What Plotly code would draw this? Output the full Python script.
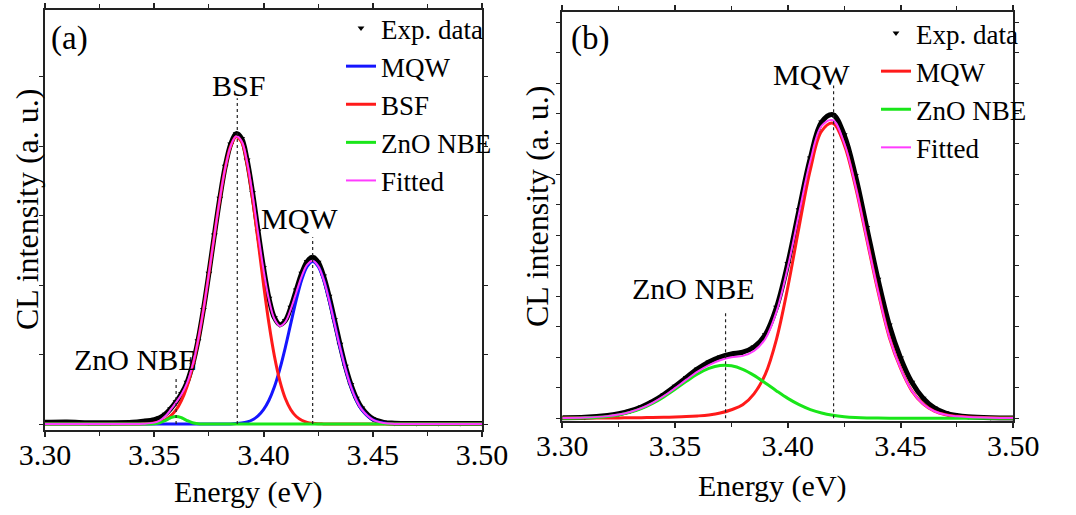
import plotly.graph_objects as go

# ---------------- Panel (a) ----------------
energy_a = [3.300, 3.310, 3.320, 3.330, 3.340, 3.345, 3.350,
            3.3525, 3.355, 3.3575, 3.360, 3.3625, 3.365, 3.3675, 3.370, 3.3725, 3.375,
            3.3775, 3.380, 3.3825, 3.385, 3.3875, 3.390, 3.3925, 3.395, 3.3975, 3.400,
            3.4025, 3.405, 3.4075, 3.410, 3.4125, 3.415, 3.4175, 3.420, 3.4225, 3.425,
            3.4275, 3.430, 3.4325, 3.435, 3.4375, 3.440, 3.4425, 3.445,
            3.450, 3.455, 3.460, 3.470, 3.480, 3.490, 3.500]

exp_a = [0.012, 0.014, 0.010, 0.009, 0.012, 0.020, 0.032,
         0.045, 0.070, 0.110, 0.160, 0.220, 0.300, 0.425, 0.600, 0.825, 1.085,
         1.360, 1.625, 1.855, 2.015, 2.090, 2.055, 1.900, 1.665, 1.390, 1.125,
         0.905, 0.765, 0.715, 0.745, 0.840, 0.965, 1.085, 1.170, 1.200, 1.165,
         1.065, 0.920, 0.750, 0.575, 0.415, 0.285, 0.185, 0.115,
         0.038, 0.012, 0.006, 0.004, 0.004, 0.003, 0.003]

mqw_a = [0, 0, 0, 0, 0, 0, 0,
         0, 0, 0, 0, 0, 0, 0, 0, 0, 0,
         0, 0.000, 0.001, 0.001, 0.003, 0.007, 0.015, 0.031, 0.058, 0.103,
         0.171, 0.268, 0.397, 0.552, 0.724, 0.893, 1.038, 1.135, 1.170, 1.135,
         1.038, 0.893, 0.724, 0.552, 0.397, 0.268, 0.171, 0.103,
         0.031, 0.007, 0.001, 0, 0, 0, 0]

bsf_a = [0, 0, 0, 0, 0.000, 0.002, 0.008,
         0.016, 0.031, 0.058, 0.101, 0.170, 0.270, 0.411, 0.595, 0.821, 1.081,
         1.355, 1.618, 1.843, 2.000, 2.068, 2.029, 1.871, 1.620, 1.318, 1.008,
         0.723, 0.488, 0.309, 0.184, 0.103, 0.054, 0.027, 0.012, 0.005, 0.002,
         0.001, 0, 0, 0, 0, 0, 0, 0,
         0, 0, 0, 0, 0, 0, 0]

zno_a = [0, 0, 0, 0, 0, 0, 0.002,
         0.009, 0.025, 0.045, 0.055, 0.045, 0.025, 0.009, 0.002, 0, 0,
         0, 0, 0, 0, 0, 0, 0, 0, 0, 0,
         0, 0, 0, 0, 0, 0, 0, 0, 0, 0,
         0, 0, 0, 0, 0, 0, 0, 0,
         0, 0, 0, 0, 0, 0, 0]

fit_a = [0, 0, 0, 0, 0, 0.002, 0.010,
         0.025, 0.056, 0.103, 0.156, 0.215, 0.295, 0.420, 0.597, 0.821, 1.081,
         1.355, 1.618, 1.844, 2.001, 2.071, 2.036, 1.886, 1.651, 1.376, 1.111,
         0.894, 0.756, 0.706, 0.736, 0.827, 0.947, 1.065, 1.147, 1.175, 1.137,
         1.039, 0.893, 0.724, 0.552, 0.397, 0.268, 0.171, 0.103,
         0.031, 0.007, 0.001, 0, 0, 0, 0]

# peak markers: (label, energy, top of the dotted guide)
peaks_a = [("BSF", 3.388, 2.345), ("MQW", 3.4225, 1.345), ("ZnO NBE", 3.360, 0.34)]

# ---------------- Panel (b) ----------------
energy_b = [3.300, 3.310, 3.320, 3.325, 3.330, 3.335, 3.340, 3.345, 3.350, 3.355,
            3.360, 3.365, 3.370, 3.375, 3.380, 3.385, 3.390, 3.395, 3.400, 3.405,
            3.410, 3.415, 3.420, 3.425, 3.430, 3.435, 3.440, 3.445, 3.450, 3.455,
            3.460, 3.465, 3.470, 3.475, 3.480, 3.490, 3.500]

exp_b = [0.010, 0.015, 0.045, 0.075, 0.120, 0.185, 0.275, 0.390, 0.525, 0.670,
         0.810, 0.925, 1.005, 1.055, 1.085, 1.170, 1.370, 1.820, 2.540, 3.420,
         4.270, 4.860, 4.980, 4.650, 3.980, 3.130, 2.280, 1.530, 0.990, 0.590,
         0.330, 0.170, 0.085, 0.045, 0.025, 0.010, 0.006]

mqw_b = [0.003, 0.004, 0.005, 0.006, 0.008, 0.010, 0.012, 0.015, 0.020, 0.027,
         0.038, 0.055, 0.085, 0.140, 0.220, 0.400, 0.720, 1.300, 2.150, 3.140,
         4.080, 4.710, 4.840, 4.490, 3.800, 2.940, 2.080, 1.330, 0.820, 0.450,
         0.235, 0.115, 0.057, 0.032, 0.020, 0.009, 0.005]

zno_b = [0.001, 0.007, 0.030, 0.055, 0.096, 0.157, 0.242, 0.350, 0.475, 0.606,
         0.727, 0.818, 0.866, 0.860, 0.803, 0.704, 0.580, 0.449, 0.326, 0.223,
         0.143, 0.086, 0.049, 0.026, 0.013, 0.006, 0.003, 0.001, 0, 0,
         0, 0, 0, 0, 0, 0, 0]

fit_b = [0.004, 0.011, 0.035, 0.061, 0.104, 0.167, 0.254, 0.365, 0.495, 0.633,
         0.765, 0.873, 0.951, 1.000, 1.023, 1.104, 1.300, 1.749, 2.476, 3.363,
         4.223, 4.796, 4.889, 4.516, 3.813, 2.946, 2.083, 1.331, 0.820, 0.450,
         0.235, 0.115, 0.057, 0.032, 0.020, 0.009, 0.005]

peaks_b = [("MQW", 3.4203, 5.46), ("ZnO NBE", 3.3724, 1.77)]

energy_ticks = [3.30, 3.35, 3.40, 3.45, 3.50]

SERIF = "Liberation Serif, Times New Roman, Times, serif"
BLUE, RED, GREEN, MAGENTA = "#1515ff", "#ff1a1a", "#19e619", "#ff3cff"

fig = go.Figure()


def add_exp(x, y, xa, ya, leg):
    fig.add_trace(go.Scatter(x=x, y=y, xaxis=xa, yaxis=ya, mode="lines",
                             line=dict(color="black", width=5, shape="spline"),
                             legendgroup=leg + "exp", showlegend=False, legend=leg,
                             hoverinfo="skip"))
    fig.add_trace(go.Scatter(x=x, y=y, xaxis=xa, yaxis=ya, mode="markers",
                             marker=dict(symbol="triangle-down", size=6, color="black"),
                             name="Exp. data", legendgroup=leg + "exp", legend=leg))


def add_line(x, y, xa, ya, leg, name, color, width):
    fig.add_trace(go.Scatter(x=x, y=y, xaxis=xa, yaxis=ya, mode="lines",
                             line=dict(color=color, width=width, shape="spline"),
                             name=name, legendgroup=leg + name, legend=leg))


# panel (a)
add_exp(energy_a, exp_a, "x", "y", "legend")
add_line(energy_a, mqw_a, "x", "y", "legend", "MQW", BLUE, 3)
add_line(energy_a, bsf_a, "x", "y", "legend", "BSF", RED, 3)
add_line(energy_a, zno_a, "x", "y", "legend", "ZnO NBE", GREEN, 3)
add_line(energy_a, fit_a, "x", "y", "legend", "Fitted", MAGENTA, 2)

# panel (b)
add_exp(energy_b, exp_b, "x2", "y2", "legend2")
add_line(energy_b, mqw_b, "x2", "y2", "legend2", "MQW", RED, 3)
add_line(energy_b, zno_b, "x2", "y2", "legend2", "ZnO NBE", GREEN, 3)
add_line(energy_b, fit_b, "x2", "y2", "legend2", "Fitted", MAGENTA, 2)

W, H = 1076, 515

xcommon = dict(range=[3.30, 3.50], tickvals=energy_ticks, tickformat=".2f",
               ticks="outside", ticklen=5, tickwidth=1.5, tickcolor="#222",
               ticklabelstandoff=-8,
               minor=dict(ticks="outside", ticklen=4, tickwidth=1.2, tick0=3.30,
                          dtick=0.025, tickcolor="#222", showgrid=False),
               showline=True, linewidth=1.8, linecolor="#222", mirror="allticks",
               showgrid=False, zeroline=False, automargin=False,
               tickfont=dict(family=SERIF, size=30, color="black"))
ycommon = dict(dtick=0.5, tick0=0, showticklabels=False, ticks="outside", ticklen=4,
               tickwidth=1.2, tickcolor="#222", showline=True, linewidth=1.8,
               linecolor="#222", mirror="allticks", showgrid=False, zeroline=False,
               automargin=False)

legend_common = dict(xanchor="left", yanchor="top", bgcolor="rgba(0,0,0,0)",
                     font=dict(family=SERIF, size=27, color="black"),
                     tracegroupgap=0, itemwidth=30, traceorder="grouped")

fig.update_layout(
    template="none",
    width=W, height=H,
    margin=dict(l=0, r=0, t=0, b=0, autoexpand=False),
    paper_bgcolor="white", plot_bgcolor="white",
    font=dict(family=SERIF, color="black"),
    xaxis=dict(domain=[45 / W, 482 / W], anchor="y", **xcommon),
    yaxis=dict(domain=[1 - 430 / H, 1 - 10 / H], range=[-0.043, 2.98], anchor="x", **ycommon),
    xaxis2=dict(domain=[562.3 / W, 1013.3 / W], anchor="y2", **xcommon),
    yaxis2=dict(domain=[1 - 420.7 / H, 1 - 11.7 / H], range=[-0.04, 6.67], anchor="x2", **ycommon),
    legend=dict(x=341 / W, y=1 - 4 / H, **legend_common),
    legend2=dict(x=876 / W, y=1 - 9 / H, **legend_common),
    showlegend=True,
)

# dotted guides at the peak positions
for name, e, top in peaks_a:
    fig.add_shape(type="line", xref="x", yref="y", x0=e, x1=e, y0=0, y1=top,
                  line=dict(color="#222", width=1.2, dash="dot"))
for name, e, top in peaks_b:
    fig.add_shape(type="line", xref="x2", yref="y2", x0=e, x1=e, y0=0, y1=top,
                  line=dict(color="#222", width=1.2, dash="dot"))


def label(x, y, text, xref, yref, size=30, angle=0):
    fig.add_annotation(x=x, y=y, xref=xref, yref=yref, text=text, showarrow=False,
                       xanchor="center", yanchor="middle", textangle=angle,
                       font=dict(family=SERIF, size=size, color="black"))


# peak labels
label(3.3885, 2.44, "BSF", "x", "y")
label(3.4166, 1.478, "MQW", "x", "y")
label(3.3416, 0.468, "ZnO NBE", "x", "y")
label(3.4106, 5.644, "MQW", "x2", "y2")
label(3.3582, 2.136, "ZnO NBE", "x2", "y2")

# panel tags
label(69 / W, 1 - 38 / H, "(a)", "paper", "paper", size=33)
label(590 / W, 1 - 38 / H, "(b)", "paper", "paper", size=33)

# axis titles
label(248 / W, 1 - 492 / H, "Energy (eV)", "paper", "paper")
label(772 / W, 1 - 486 / H, "Energy (eV)", "paper", "paper")
label(27 / W, 1 - 210 / H, "CL intensity (a. u.)", "paper", "paper", size=32, angle=-90)
label(537 / W, 1 - 207 / H, "CL intensity (a. u.)", "paper", "paper", size=32, angle=-90)

fig.write_html("out.html")
